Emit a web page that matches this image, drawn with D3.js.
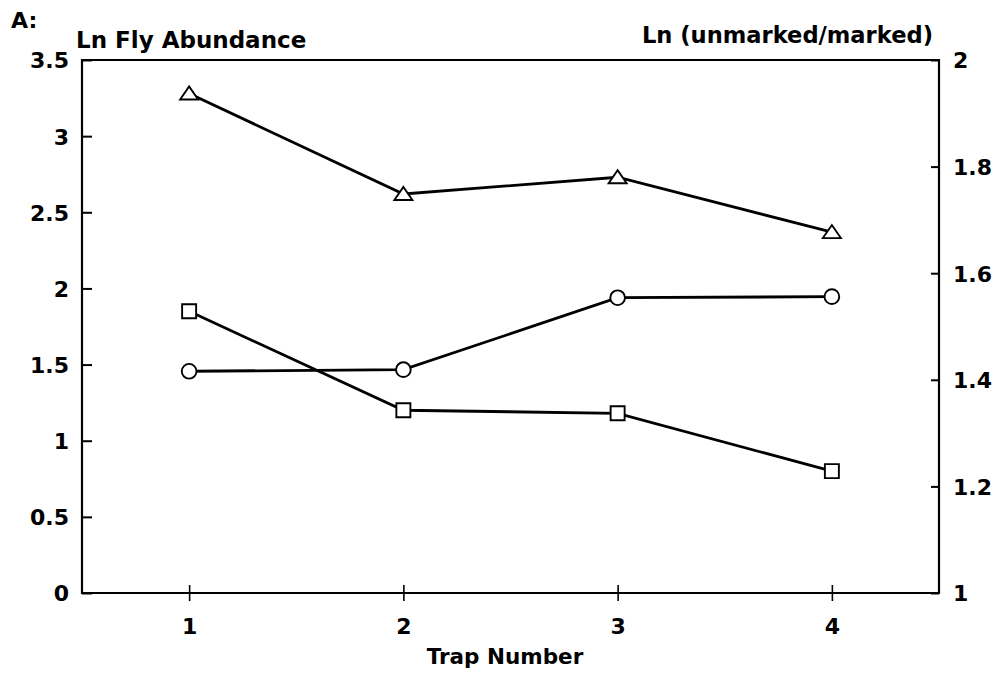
<!DOCTYPE html>
<html><head><meta charset="utf-8">
<script src="https://cdn.jsdelivr.net/npm/d3@7"></script>
<style>body{margin:0;background:#fff}svg{display:block}text{font-family:"DejaVu Sans",sans-serif;font-weight:bold;fill:#000}</style>
</head><body><svg id="c" width="996" height="678"></svg>
<script>
const traps = [1, 2, 3, 4];
const triangleVals = [3.28, 2.62, 2.73, 2.37];   // left axis
const squareVals = [1.85, 1.20, 1.18, 0.80];     // left axis
const circleVals = [1.416, 1.419, 1.554, 1.556]; // right axis
const leftTicks = [0, 0.5, 1, 1.5, 2, 2.5, 3, 3.5];
const rightTicks = [1, 1.2, 1.4, 1.6, 1.8, 2];
const xTicks = [1, 2, 3, 4];

const svg = d3.select("#c");
const L = 82, R = 939, T = 60, B = 593;
const x = d3.scaleLinear().domain([0.5, 4.5]).range([L, R]);
const yL = d3.scaleLinear().domain([0, 3.5]).range([B, T]);
const yR = d3.scaleLinear().domain([1, 2]).range([B, T]);

svg.append("path")
  .attr("d", `M${L},${T}V${B}H${R}V${T}Z`)
  .attr("fill", "none").attr("stroke", "#000").attr("stroke-width", 2.2);

const gL = svg.append("g").attr("transform", `translate(${L},0)`)
  .call(d3.axisLeft(yL).tickValues(leftTicks).tickSize(-10).tickPadding(13).tickFormat(d => d3.format("")(d)));
gL.select(".domain").remove();
gL.selectAll("line").attr("stroke-width", 2);
gL.selectAll("text").attr("font-size", 22).attr("dy", "0.36em");

const gR = svg.append("g").attr("transform", `translate(${R},0)`)
  .call(d3.axisRight(yR).tickValues(rightTicks).tickSize(-8).tickPadding(14).tickFormat(d => d3.format("")(d)));
gR.select(".domain").remove();
gR.selectAll("line").attr("stroke-width", 2);
gR.selectAll("text").attr("font-size", 22).attr("dy", "0.36em");

const gB = svg.append("g").attr("transform", `translate(0,${B})`)
  .call(d3.axisBottom(x).tickValues(xTicks).tickSize(8).tickPadding(17).tickFormat(d3.format("d")));
gB.select(".domain").remove();
gB.selectAll("line").attr("y1", -8).attr("stroke-width", 1.6);
gB.selectAll("text").attr("font-size", 22).attr("dy", "0.71em");

svg.append("text").attr("x", 11).attr("y", 28).attr("font-size", 22).text("A:");
svg.append("text").attr("x", 76).attr("y", 48).attr("font-size", 23).text("Ln Fly Abundance");
svg.append("text").attr("x", 933).attr("y", 43).attr("text-anchor", "end").attr("font-size", 22.6).text("Ln (unmarked/marked)");
svg.append("text").attr("x", 505).attr("y", 664).attr("text-anchor", "middle").attr("font-size", 21.5).text("Trap Number");

function series(vals, yScale, drawMarker) {
  const pts = traps.map((t, i) => [x(t), yScale(vals[i])]);
  svg.append("path").attr("d", d3.line()(pts))
    .attr("fill", "none").attr("stroke", "#000").attr("stroke-width", 2.8);
  const g = svg.append("g").selectAll("path").data(pts).join("path")
    .attr("transform", d => `translate(${d[0]},${d[1]})`)
    .attr("fill", "#fff").attr("stroke", "#000").attr("stroke-width", 1.9);
  drawMarker(g);
}
// flat open triangle ~18 wide x 13 tall
series(triangleVals, yL, g => g.attr("d", "M-9,6L0,-7L9,6Z"));
series(squareVals, yL, g => g.attr("d", d3.symbol().type(d3.symbolSquare).size(196)));
series(circleVals, yR, g => g.attr("d", d3.symbol().type(d3.symbolCircle).size(170)));
</script></body></html>
